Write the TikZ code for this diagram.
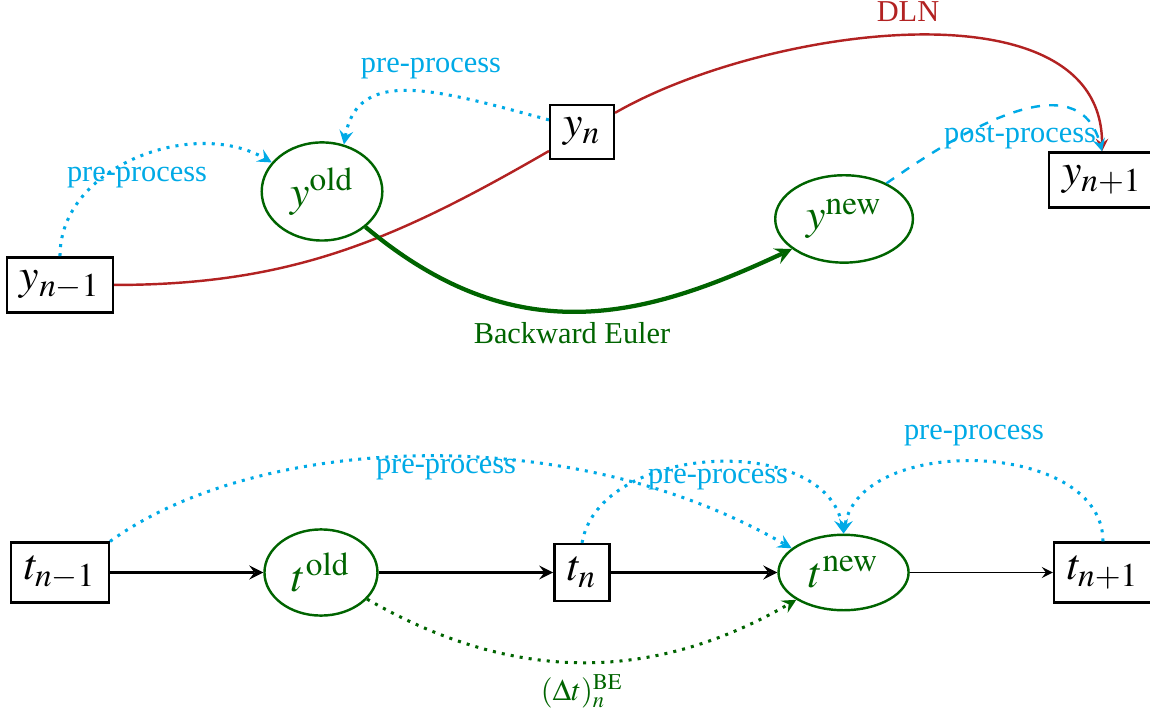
\documentclass[tikz,border=0pt]{standalone}
\usepackage{mathptmx}
\usepackage[no-math]{fontspec}
\setmainfont{Liberation Serif}
\usetikzlibrary{shapes.geometric}
\definecolor{procblue}{RGB}{0,170,230}
\definecolor{begreen}{RGB}{0,100,0}
\definecolor{dlnred}{RGB}{178,34,34}
\begin{document}
\begin{tikzpicture}[>=stealth,
		val/.style={draw,thick,inner sep=4.3pt,font=\Large},
		stage/.style={ellipse,draw=begreen,thick,text=begreen,inner sep=3.6pt,font=\Large},
		prep/.style={procblue,line width=1pt,dotted,->},
		lbl/.style={inner sep=1pt}]
	\useasboundingbox (0,0) rectangle (13.31,8.275);
	% y row
	\node[val] (ym1) at (0.694,4.977) {$y_{n-1}$};
	\node[val] (yn) at (6.736,6.748) {$y_n$};
	\node[val] (yp1) at (12.755,6.192) {$y_{n+1}$};
	\node[stage] (yold) at (3.727,6.059) {$y^{\mathrm{old}}$};
	\node[stage] (ynew) at (9.769,5.741) {$y^{\mathrm{new}}$};
	\draw[dlnred,thick,->] (ym1.east) to[out=0,in=210] (yn) to[out=30,in=90,looseness=0.9] (yp1.north);
	\node[lbl,dlnred] (ldln) at (10.509,8.137) {DLN};
	\draw[prep] (ym1.north) to[out=90,in=150] (yold.150);
	\node[lbl,procblue] (lpre1) at (1.586,6.215) {pre-process};
	\draw[prep] (yn.160) to[out=165,in=80,out looseness=1.4] (yold.65);
	\node[lbl,procblue] (lpre2) at (4.988,7.477) {pre-process};
	\draw[begreen,line width=1.4pt,->] (yold.south east) .. controls +(-40:2.3) and +(205:1.85) .. (ynew.210);
	\node[lbl,begreen] (lbe) at (6.620,4.421) {Backward Euler};
	\draw[procblue,thick,dashed,->] (ynew.40) to[out=35,in=105,looseness=1.1] (yp1.north);
	\node[lbl,procblue] (lpost) at (11.806,6.690) {post-process};
	% t row
	\node[val] (tm1) at (0.694,1.649) {$t_{n-1}$};
	\node[stage] (told) at (3.715,1.649) {$t^{\mathrm{old}}$};
	\node[val] (tn) at (6.736,1.649) {$t_n$};
	\node[stage] (tnew) at (9.763,1.649) {$t^{\mathrm{new}}$};
	\node[val] (tp1) at (12.766,1.649) {$t_{n+1}$};
	\draw[line width=1pt,->] (tm1) -- (told);
	\draw[line width=1pt,->] (told) -- (tn);
	\draw[line width=1pt,->] (tn) -- (tnew);
	\draw[semithick,->] (tnew) -- (tp1);
	\draw[prep] (tm1.north east) .. controls +(36:2.05) and +(150:3.05) .. (tnew.155);
	\node[lbl,procblue] (lpre3) at (5.162,2.836) {pre-process};
	\draw[prep] (tn.north) to[out=80,in=100] (tnew.north);
	\node[lbl,procblue] (lpre4) at (8.310,2.720) {pre-process};
	\draw[prep] (tp1.north) to[out=90,in=80] (tnew.north);
	\node[lbl,procblue] (lpre5) at (11.273,3.229) {pre-process};
	\draw[begreen,line width=1pt,dotted,->] (told.-30) to[out=-30,in=210] (tnew.210);
	\node[lbl,begreen] (ldt) at (6.736,0.278) {$(\Delta t)_n^{\mathrm{BE}}$};
\end{tikzpicture}
\end{document}
